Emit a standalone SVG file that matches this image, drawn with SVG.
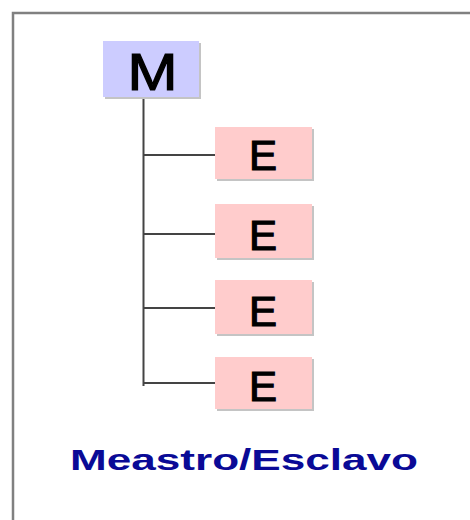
<svg xmlns="http://www.w3.org/2000/svg" width="470" height="520" viewBox="0 0 470 520">
  <style>
    .frame { fill: none; stroke: #808080; stroke-width: 2.5; }
    .shadow { fill: #c4c4c4; }
    .master { fill: #ccccff; }
    .slave { fill: #ffcccc; }
    .lbl { font-family: "Liberation Sans", Arial, sans-serif; fill: #000000; stroke: #000000; stroke-width: 1.2; text-anchor: middle; }
    .wire { stroke: #444444; stroke-width: 2; fill: none; }
    .caption { font-family: "Liberation Sans", Arial, sans-serif; font-weight: bold; fill: #0a0a96; }
  </style>
  <rect width="470" height="520" fill="#ffffff"/>
  <!-- outer frame, open to the right and bottom -->
  <path class="frame" d="M13,520 V13 H470"/>

  <g id="connectors">
    <line class="wire" x1="143.5" y1="97" x2="143.5" y2="386"/>
    <line class="wire" x1="143.5" y1="155" x2="215" y2="155"/>
    <line class="wire" x1="143.5" y1="234" x2="215" y2="234"/>
    <line class="wire" x1="143.5" y1="308" x2="215" y2="308"/>
    <line class="wire" x1="143.5" y1="383" x2="215" y2="383"/>
  </g>

  <g id="master">
    <rect class="shadow" x="105" y="43" width="96" height="56"/>
    <rect class="master" x="103" y="41" width="96" height="56"/>
    <text class="lbl" x="152.5" y="90" font-size="51" textLength="50" lengthAdjust="spacingAndGlyphs">M</text>
  </g>

  <g id="slave1">
    <rect class="shadow" x="217" y="129" width="97" height="52"/>
    <rect class="slave" x="215" y="127" width="97" height="52"/>
    <text class="lbl" x="263" y="170" font-size="42">E</text>
  </g>
  <g id="slave2">
    <rect class="shadow" x="217" y="206" width="97" height="54"/>
    <rect class="slave" x="215" y="204" width="97" height="54"/>
    <text class="lbl" x="263" y="250" font-size="42">E</text>
  </g>
  <g id="slave3">
    <rect class="shadow" x="217" y="282" width="97" height="54"/>
    <rect class="slave" x="215" y="280" width="97" height="54"/>
    <text class="lbl" x="263" y="326" font-size="42">E</text>
  </g>
  <g id="slave4">
    <rect class="shadow" x="217" y="359" width="97" height="52"/>
    <rect class="slave" x="215" y="357" width="97" height="52"/>
    <text class="lbl" x="263" y="401" font-size="42">E</text>
  </g>

  <text class="caption" x="70" y="470" font-size="30" textLength="348" lengthAdjust="spacingAndGlyphs">Meastro/Esclavo</text>
</svg>
